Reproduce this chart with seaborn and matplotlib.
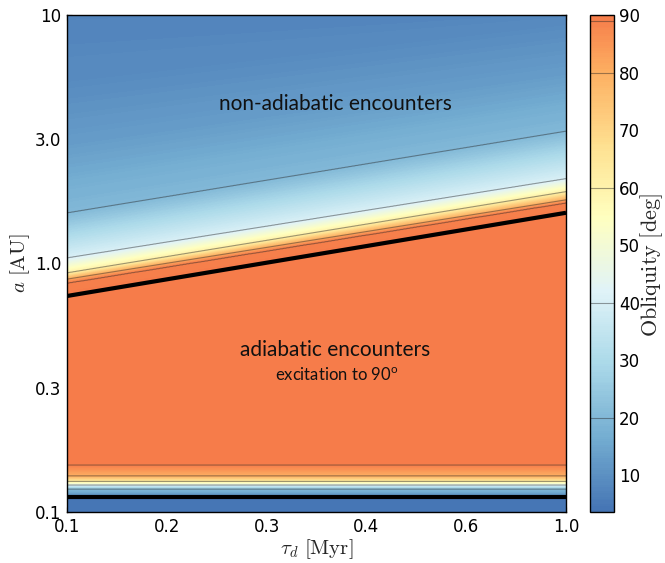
import numpy as np
import matplotlib
matplotlib.use("Agg")
import matplotlib.pyplot as plt
from matplotlib.colors import ListedColormap
import seaborn as sns

# Boundary of the adiabatic regime (thick black lines)
tau_edge = [0.1, 1.0]            # Myr
a_adiabatic = [0.74, 1.6]        # AU, upper boundary
a_inner = 0.1144                 # AU, inner boundary

# Obliquity profile above the upper boundary: offset (dex) -> obliquity (deg)
upper_obliquity = [90, 89, 80, 60, 40, 20, 13, 9, 7]
upper_offset_left = [0.0, 0.052, 0.068, 0.093, 0.153, 0.334, 0.60, 0.85, 1.15]
upper_offset_right = [0.0, 0.040, 0.052, 0.085, 0.137, 0.328, 0.55, 0.75, 0.85]

# Obliquity profile near the inner boundary: a (AU) -> obliquity (deg)
inner_a = [0.100, 0.1140, 0.1148, 0.118, 0.1238, 0.1284, 0.1327, 0.1396, 0.1545, 0.158]
inner_obliquity = [4.0, 4.5, 8.0, 12.0, 20.0, 40.0, 60.0, 80.0, 89.0, 90.0]

contour_levels = [20, 40, 60, 80, 89]
cbar_ticks = [10, 20, 30, 40, 50, 60, 70, 80, 90]
x_tick_labels = ["0.1", "0.2", "0.3", "0.4", "0.6", "1.0"]
y_tick_labels = ["0.1", "0.3", "1.0", "3.0", "10"]

sns.set_style("ticks")
plt.rcParams.update({
    "font.family": ["DejaVu Sans"],
    "mathtext.fontset": "custom",
    "mathtext.rm": "Lato",
    "xtick.direction": "in",
    "ytick.direction": "in",
    "xtick.top": True,
    "ytick.right": True,
    "xtick.major.size": 3.5,
    "ytick.major.size": 3.5,
    "xtick.color": "black",
    "ytick.color": "black",
    "axes.edgecolor": "black",
    "axes.linewidth": 1.0,
})

# Grid in (tau, a)
tau = np.logspace(-1, 0, 300)
a = np.logspace(-1, 1, 900)
T, A = np.meshgrid(tau, a)
log_tau = np.log10(tau)
log_a_ad = np.interp(log_tau, np.log10(tau_edge), np.log10(a_adiabatic))
frac = (log_tau - log_tau[0]) / (log_tau[-1] - log_tau[0])

off_l = np.array(upper_offset_left)
off_r = np.array(upper_offset_right)
upper = np.empty_like(A)
for j in range(len(tau)):
    s = np.log10(a) - log_a_ad[j]
    offs = off_l * (1 - frac[j]) + off_r * frac[j]
    upper[:, j] = np.interp(s, offs, upper_obliquity)
inner = np.interp(np.log10(A), np.log10(inner_a), inner_obliquity)
obliquity = np.minimum(upper, inner)

base = sns.color_palette("RdYlBu_r", as_cmap=True)
cmap = ListedColormap(base(np.linspace(0.10, 0.775, 256)))

fig = plt.figure(figsize=(6.65, 5.63), dpi=100)
ax = fig.add_axes([67 / 665, 51 / 563, 499 / 665, 497 / 563])
cax = fig.add_axes([590 / 665, 51 / 563, 24 / 665, 497 / 563])

fill_levels = np.linspace(3.6, 90.0001, 260)
cf = ax.contourf(T, A, obliquity, levels=fill_levels, cmap=cmap,
                 vmin=3.6, vmax=90)
cl = ax.contour(T, A, obliquity, levels=contour_levels, colors="0.15",
                linewidths=0.8, alpha=0.45)

ax.plot(tau_edge, a_adiabatic, color="black", lw=3, solid_capstyle="butt")
ax.plot(tau_edge, [a_inner, a_inner], color="black", lw=3, solid_capstyle="butt")

ax.set_xscale("log")
ax.set_yscale("log")
ax.set_xlim(0.1, 1.0)
ax.set_ylim(0.1, 10)
ax.set_xticks(10 ** np.linspace(-1, 0, 6))
ax.set_xticklabels(x_tick_labels)
ax.set_yticks(10 ** np.linspace(-1, 1, 5))
ax.set_yticklabels(y_tick_labels)
ax.xaxis.set_minor_locator(matplotlib.ticker.NullLocator())
ax.yaxis.set_minor_locator(matplotlib.ticker.NullLocator())
ax.tick_params(labelsize=12, pad=4)

ax.set_xlabel(r"$\tau_d\ [\mathrm{Myr}]$", fontsize=15, math_fontfamily="cm", labelpad=1)
ax.set_ylabel(r"$a\ [\mathrm{AU}]$", fontsize=15, math_fontfamily="cm", labelpad=2)


def fig_text(xp, yp, s, **kw):
    fig.text(xp / 665, 1 - yp / 563, s, ha="center", va="center", **kw)


fig_text(335, 104, "non-adiabatic encounters", family="Lato", fontsize=15, color="#111111")
fig_text(335, 350, "adiabatic encounters", family="Lato", fontsize=15, color="#111111")
fig_text(337, 375, r"excitation to 90$^\mathrm{o}$", family="Lato", fontsize=12, color="#111111")

cbar = fig.colorbar(cf, cax=cax, ticks=cbar_ticks)
cbar.add_lines(cl)
cbar.ax.tick_params(labelsize=12, direction="in", length=3.5, right=True, left=False)
cbar.outline.set_linewidth(1.0)
fig_text(652, 265, r"$\mathrm{Obliquity}\ [\mathrm{deg}]$", rotation=90,
         fontsize=16, math_fontfamily="cm")

fig.savefig("out.png", dpi=100)
